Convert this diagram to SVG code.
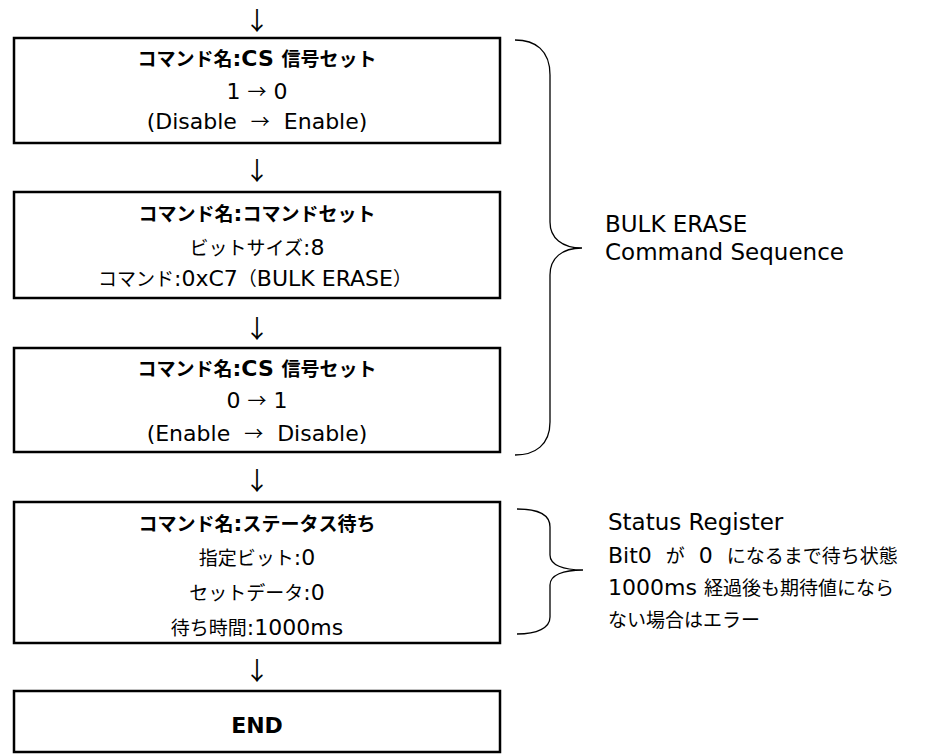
<svg xmlns="http://www.w3.org/2000/svg" width="943" height="754" viewBox="0 0 943 754">
<style>
.t{font-family:"Noto Sans CJK JP",sans-serif;font-size:19px;fill:#000;text-anchor:middle}
.s{font-family:"Noto Sans CJK JP",sans-serif;font-size:19px;fill:#000;text-anchor:start}
.b{font-weight:700}
.l{font-family:"DejaVu Sans","Noto Sans CJK JP",sans-serif;font-size:22px}
.sl{font-family:"DejaVu Sans","Noto Sans CJK JP",sans-serif;font-size:23px}
.box{fill:#fff;stroke:#000;stroke-width:2.5}
.brace{fill:none;stroke:#000;stroke-width:1.3}
.arr{font-family:"Noto Sans CJK JP",sans-serif;font-size:25px;fill:#000;text-anchor:middle;dominant-baseline:central}
</style>
<rect width="943" height="754" fill="#fff"/>
<g id="connectors">
<text class="arr" x="257" y="19">↓</text>
<text class="arr" x="257" y="169">↓</text>
<text class="arr" x="257" y="327">↓</text>
<text class="arr" x="257" y="479">↓</text>
<text class="arr" x="257" y="669">↓</text>
</g>
<g id="cs-set-1">
<rect class="box" x="14" y="38" width="486" height="105"/>
<text class="t b" x="257" y="66">コマンド名<tspan class="l">:CS </tspan>信号セット</text>
<text class="t" x="257" y="99"><tspan class="l">1 </tspan>→<tspan class="l"> 0</tspan></text>
<text class="t" x="257" y="129"><tspan class="l">(Disable&#160; </tspan>→<tspan class="l">&#160; Enable)</tspan></text>
</g>
<g id="command-set">
<rect class="box" x="14" y="192" width="486" height="106"/>
<text class="t b" x="257" y="221">コマンド名<tspan class="l">:</tspan>コマンドセット</text>
<text class="t" x="257" y="255">ビットサイズ<tspan class="l">:8</tspan></text>
<text class="t" x="255" y="286">コマンド<tspan class="l">:0xC7</tspan>（<tspan class="l">BULK ERASE</tspan>）</text>
</g>
<g id="cs-set-2">
<rect class="box" x="14" y="348" width="486" height="104"/>
<text class="t b" x="257" y="376">コマンド名<tspan class="l">:CS </tspan>信号セット</text>
<text class="t" x="257" y="408"><tspan class="l">0 </tspan>→<tspan class="l"> 1</tspan></text>
<text class="t" x="257" y="441"><tspan class="l">(Enable&#160; </tspan>→<tspan class="l">&#160; Disable)</tspan></text>
</g>
<g id="status-wait">
<rect class="box" x="14" y="502" width="486" height="141"/>
<text class="t b" x="257" y="531">コマンド名<tspan class="l">:</tspan>ステータス待ち</text>
<text class="t" x="257" y="565">指定ビット<tspan class="l">:0</tspan></text>
<text class="t" x="257" y="600">セットデータ<tspan class="l">:0</tspan></text>
<text class="t" x="257" y="635">待ち時間<tspan class="l">:1000ms</tspan></text>
</g>
<g id="end">
<rect class="box" x="14" y="691" width="486" height="61"/>
<text class="t b" x="257" y="733"><tspan class="l">END</tspan></text>
</g>
<g id="note-bulk-erase">
<path class="brace" d="M515,40 C535,40 550,50 550,75 L550,222 C550,238 562,248 582,248 C562,248 550,258 550,275 L550,422 C550,445 535,455 515,455"/>
<text class="s" x="605" y="232"><tspan class="sl">BULK ERASE</tspan></text>
<text class="s" x="605" y="260"><tspan class="sl">Command Sequence</tspan></text>
</g>
<g id="note-status">
<path class="brace" d="M517,509 C537,509 550,514 550,527 L550,555 C550,565 563,570 583,570 C563,570 550,575 550,585 L550,617 C550,628 537,634 517,634"/>
<text class="s" x="608" y="530"><tspan class="sl">Status Register</tspan></text>
<text class="s" x="608" y="563"><tspan class="l">Bit0&#160; </tspan>が<tspan class="l">&#160; 0&#160; </tspan>になるまで待ち状態</text>
<text class="s" x="608" y="595"><tspan class="l">1000ms </tspan>経過後も期待値になら</text>
<text class="s" x="608" y="627">ない場合はエラー</text>
</g>
</svg>
